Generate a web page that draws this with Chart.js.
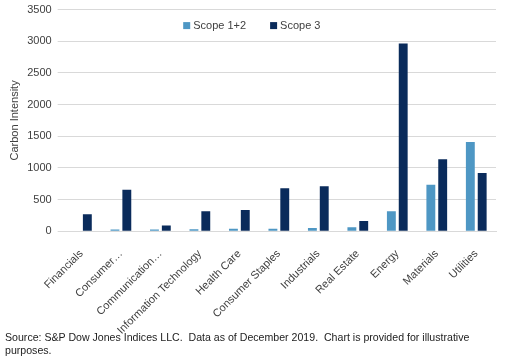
<!DOCTYPE html>
<html>
<head>
<meta charset="utf-8">
<script src="https://cdn.jsdelivr.net/npm/chart.js@4.4.0/dist/chart.umd.min.js"></script>
<style>
  body { margin: 0; background: #fff; font-family: "Liberation Sans", Arial, sans-serif; overflow: hidden; }
  #wrap { position: relative; width: 506px; height: 361px; overflow: hidden; }
  #sectorChart { position: absolute; left: 0; top: -3px; }
  #note { position: absolute; left: 5px; top: 331px; color: #222; font-size: 10.6px; line-height: 13px; width: 500px; }
</style>
</head>
<body>
<div id="wrap">
  <canvas id="sectorChart" width="506" height="348"></canvas>
  <div id="note">Source: S&amp;P Dow Jones Indices LLC.&nbsp; Data as of December 2019.&nbsp; Chart is provided for illustrative purposes.</div>
</div>
<script>
// sectors as labelled on the axis (two are cut short in the original)
var sectors = ['Financials', 'Consumer\u2026', 'Communication\u2026', 'Information Technology', 'Health Care',
               'Consumer Staples', 'Industrials', 'Real Estate', 'Energy', 'Materials', 'Utilities'];
var scope12 = [6, 28, 28, 30, 38, 40, 50, 65, 315, 735, 1410];
var scope3 = [268, 655, 92, 315, 335, 680, 710, 160, 2965, 1135, 920];
var yTicks = [0, 500, 1000, 1500, 2000, 2500, 3000, 3500];

var txt = '#404040';
var font11 = { family: 'Liberation Sans', size: 11 };

// legend drawn inside the plot, just under the top gridline
var insideLegend = {
    id: 'insideLegend',
    afterDraw: function(chart) {
        var c = chart.ctx;
        var area = chart.chartArea;
        var y = area.top + 16;
        c.save();
        c.font = '11px "Liberation Sans"';
        c.textBaseline = 'middle';
        var gap = 24, box = 7, items = [];
        var total = 0;
        chart.data.datasets.forEach(function(ds) {
            var w = box + 3 + c.measureText(ds.label).width;
            items.push(w);
            total += w;
        });
        total += gap * (items.length - 1);
        var x = (area.left + area.right) / 2 - total / 2 - 27;
        chart.data.datasets.forEach(function(ds, i) {
            c.fillStyle = ds.backgroundColor;
            c.fillRect(x, y - box / 2, box, box);
            c.fillStyle = txt;
            c.fillText(ds.label, x + box + 3, y);
            x += items[i] + gap;
        });
        c.restore();
    }
};

var ctx = document.getElementById('sectorChart').getContext('2d');
var chart = new Chart(ctx, {
    type: 'bar',
    data: {
        labels: sectors,
        datasets: [{
            label: 'Scope 1+2',
            data: scope12,
            backgroundColor: '#4e97c4',
            barPercentage: 0.75,
            categoryPercentage: 0.6
        }, {
            label: 'Scope 3',
            data: scope3,
            backgroundColor: '#0a2b5b',
            barPercentage: 0.75,
            categoryPercentage: 0.6
        }]
    },
    options: {
        responsive: false,
        animation: false,
        layout: { padding: { top: 0, right: 10, left: 8, bottom: 0 } },
        plugins: {
            legend: { display: false },
            tooltip: { enabled: false }
        },
        scales: {
            x: {
                grid: { display: false },
                border: { color: '#d9d9d9' },
                ticks: {
                    color: txt,
                    minRotation: 45,
                    maxRotation: 45,
                    autoSkip: false,
                    padding: 8,
                    font: font11
                }
            },
            y: {
                min: 0,
                max: 3500,
                afterBuildTicks: function(axis) {
                    axis.ticks = yTicks.map(function(v) { return { value: v }; });
                },
                grid: { color: '#d9d9d9', tickLength: 4 },
                border: { display: false },
                title: {
                    display: true,
                    text: 'Carbon Intensity',
                    color: txt,
                    padding: { top: 0, bottom: 0 },
                    font: font11
                },
                ticks: {
                    color: txt,
                    padding: 6,
                    font: font11,
                    callback: function(v) { return String(v); }
                }
            }
        }
    },
    plugins: [insideLegend]
});
</script>
</body>
</html>
